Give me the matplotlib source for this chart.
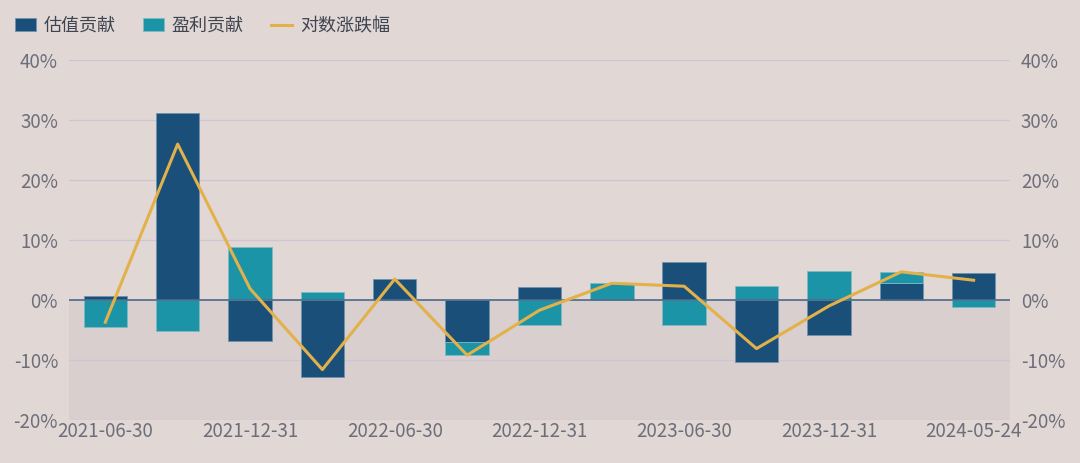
"""
Valuation vs earnings contribution, stacked bars with log return line
"""

import matplotlib
matplotlib.use('Agg')
import matplotlib.pyplot as plt
import numpy as np

plt.rcParams['font.family'] = ['Noto Sans CJK SC', 'DejaVu Sans']

dates = ['2021-06-30', '2021-09-30', '2021-12-31', '2022-03-31', '2022-06-30',
         '2022-09-30', '2022-12-31', '2023-03-31', '2023-06-30', '2023-09-30',
         '2023-12-31', '2024-03-31', '2024-05-24']
valuation = [0.7, 31.2, -6.9, -12.9, 3.5, -7.0, 2.2, 0.0, 6.3, -10.4, -5.9, 2.9, 4.5]
profit = [-4.5, -5.2, 8.8, 1.3, 0.0, -2.2, -4.2, 2.8, -4.2, 2.4, 4.9, 1.8, -1.2]
logret = [-3.7, 26.0, 1.9, -11.6, 3.5, -9.2, -1.7, 2.8, 2.3, -8.1, -1.0, 4.7, 3.3]

bg = '#e1d7d5'
c_val = '#1a4f7a'
c_pro = '#1a94a6'
c_line = '#e3b14a'
c_txt = '#6c6f7a'

fig = plt.figure(figsize=(10.8, 4.63), dpi=100, facecolor=bg)
ax = fig.add_axes([0.064, 0.093, 0.871, 0.777])
ax.set_facecolor(bg)

x = np.arange(len(dates))
val = np.array(valuation)
pro = np.array(profit)

# stack positives on positives, negatives on negatives
val_base = np.zeros(len(x))
pro_base = np.where(np.sign(pro) == np.sign(val), val, 0.0)

# slightly darker band below zero
ax.axhspan(-20, 0, color='#d9cfce', zorder=0, lw=0)

b1 = ax.bar(x, val, 0.6, bottom=val_base, color=c_val, edgecolor='#6f93ad', linewidth=0.6, zorder=2)
b2 = ax.bar(x, pro, 0.6, bottom=pro_base, color=c_pro, edgecolor='#7fb9c2', linewidth=0.6, zorder=2)
l1, = ax.plot(x, logret, color=c_line, lw=2.2, zorder=4)

ax.axhline(0, color='#4d6c88', lw=1.2, zorder=3)

ax.set_ylim(-20, 40)
ax.set_xlim(-0.5, len(x) - 0.5)
yt = np.arange(-20, 41, 10)
ax.set_yticks(yt)
ax.set_yticklabels(['%d%%' % v for v in yt])
ax.grid(axis='y', color='#cdc5d3', lw=0.9, zorder=1)
ax.set_axisbelow(True)

ax.set_xticks(x[::2])
ax.set_xticklabels(dates[::2])

for s in ax.spines.values():
    s.set_visible(False)
ax.tick_params(axis='both', length=0, colors=c_txt, labelsize=13.5)
ax.tick_params(axis='x', pad=1)
ax.tick_params(axis='y', pad=8)

ax2 = ax.twinx()
ax2.set_ylim(-20, 40)
ax2.set_yticks(yt)
ax2.set_yticklabels(['%d%%' % v for v in yt])
for s in ax2.spines.values():
    s.set_visible(False)
ax2.tick_params(axis='y', length=0, colors=c_txt, labelsize=13.5, pad=8)

ax.legend([b1, b2, l1], ['估值贡献', '盈利贡献', '对数涨跌幅'],
          loc='upper left', bbox_to_anchor=(-0.075, 1.165), ncol=3, frameon=False,
          fontsize=13, labelcolor='#3f4550', handlelength=1.2, handleheight=0.7,
          columnspacing=1.5, handletextpad=0.4)

fig.savefig('out.png', dpi=100, facecolor=bg)
